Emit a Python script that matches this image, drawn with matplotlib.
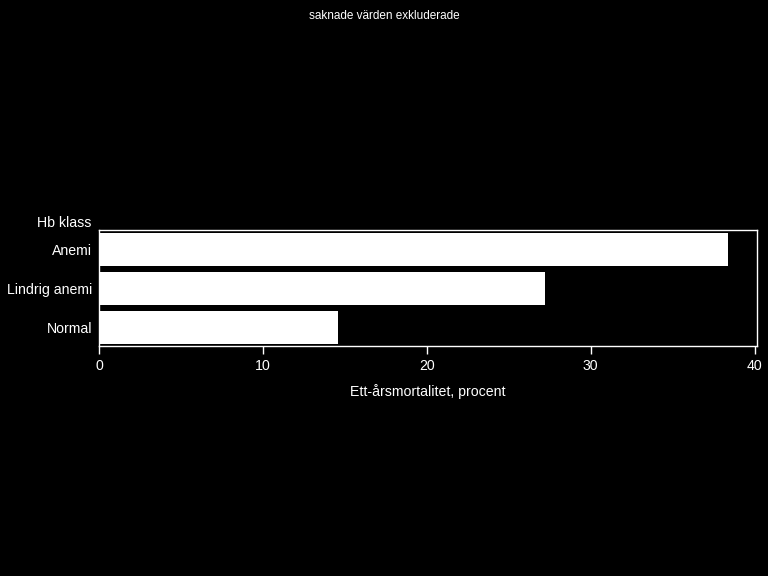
import matplotlib.pyplot as plt
import numpy as np

# data
categories = ['Normal', 'Lindrig anemi', 'Anemi']
mortality = [14.6, 27.2, 38.4]
x_ticks = [0, 10, 20, 30, 40]

plt.rcParams['font.family'] = ['Liberation Sans', 'DejaVu Sans']

fig = plt.figure(figsize=(7.68, 5.76), dpi=100, facecolor='black')
ax = fig.add_axes([0.1289, 0.3993, 0.857, 0.2009], facecolor='black')

pos = np.arange(len(categories))
ax.barh(pos, mortality, height=0.846, color='white', edgecolor='none')

ax.set_xlim(0, 40.16)
ax.set_ylim(-0.479, 2.484)
ax.set_xticks(x_ticks)
ax.set_xticklabels([str(t) for t in x_ticks])
ax.set_yticks(pos)
ax.set_yticklabels(categories)

for s in ax.spines.values():
    s.set_color('white')
    s.set_linewidth(1)

ax.tick_params(axis='x', colors='white', labelsize=10.2, length=6, width=1, pad=3)
ax.tick_params(axis='y', colors='white', labelsize=10.2, length=0, pad=5)

ax.set_xlabel('Ett-årsmortalitet, procent', color='white', fontsize=10.2, labelpad=8)

# group header above the category labels
ax.text(-0.011, 1.06, 'Hb klass', transform=ax.transAxes, color='white',
        fontsize=10.2, ha='right', va='center')

fig.text(0.5, 0.972, 'saknade värden exkluderade', color='white',
         fontsize=8.5, ha='center', va='center')

fig.savefig('out.png', dpi=100, facecolor='black')
